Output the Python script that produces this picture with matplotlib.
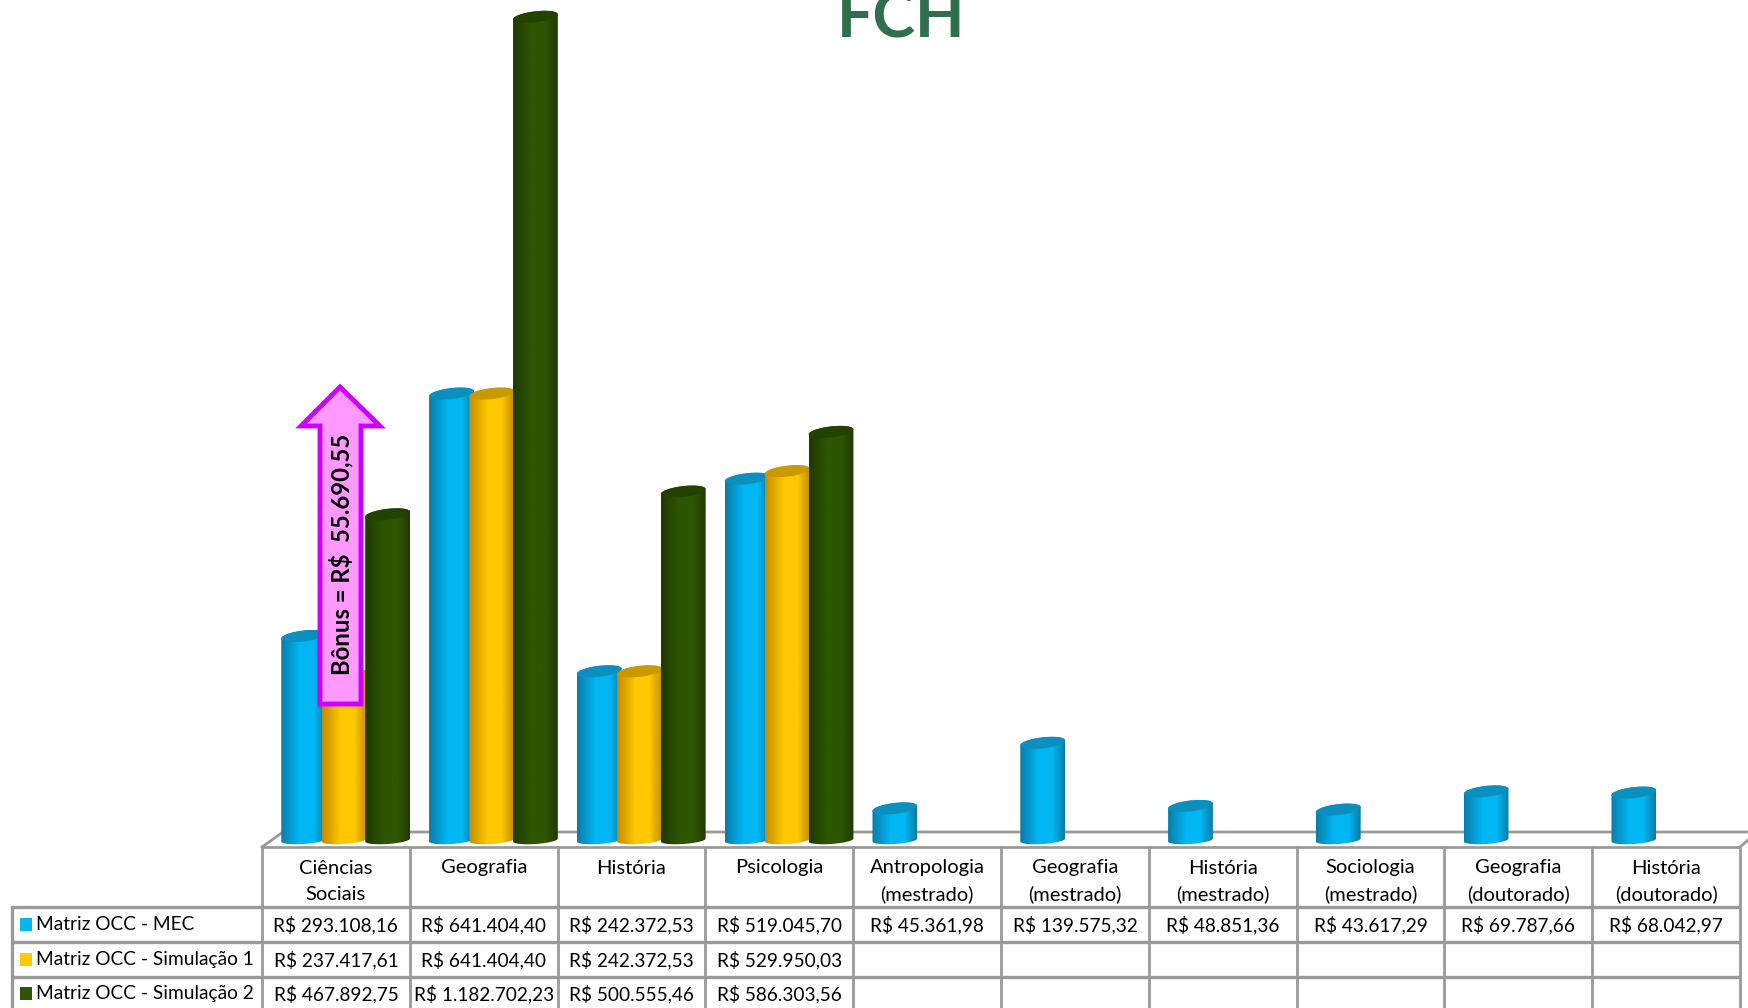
# grafico FCH - matriz OCC com cilindros e tabela de dados
import numpy as np
import matplotlib
matplotlib.use('Agg')
import matplotlib.pyplot as plt
from matplotlib.colors import LinearSegmentedColormap
from matplotlib.patches import Polygon, Rectangle, PathPatch
from matplotlib.path import Path

plt.rcParams['font.family'] = ['Lato', 'DejaVu Sans']

W, H = 1748, 1008

categorias = ['Ciências\nSociais', 'Geografia', 'História', 'Psicologia',
              'Antropologia\n(mestrado)', 'Geografia\n(mestrado)', 'História\n(mestrado)',
              'Sociologia\n(mestrado)', 'Geografia\n(doutorado)', 'História\n(doutorado)']
series = ['Matriz OCC - MEC', 'Matriz OCC - Simulação 1', 'Matriz OCC - Simulação 2']
mec = [293108.16, 641404.40, 242372.53, 519045.70, 45361.98, 139575.32, 48851.36, 43617.29, 69787.66, 68042.97]
sim1 = [237417.61, 641404.40, 242372.53, 529950.03]
sim2 = [467892.75, 1182702.23, 500555.46, 586303.56]
mec_txt = ['R$ 293.108,16', 'R$ 641.404,40', 'R$ 242.372,53', 'R$ 519.045,70', 'R$ 45.361,98',
           'R$ 139.575,32', 'R$ 48.851,36', 'R$ 43.617,29', 'R$ 69.787,66', 'R$ 68.042,97']
sim1_txt = ['R$ 237.417,61', 'R$ 641.404,40', 'R$ 242.372,53', 'R$ 529.950,03']
sim2_txt = ['R$ 467.892,75', 'R$ 1.182.702,23', 'R$ 500.555,46', 'R$ 586.303,56']
bonus = 'Bônus = R$  55.690,55'

cores = ['#00B7F4', '#FFC800', '#2E5600']
bordas = ['#0A7CA8', '#C48C00', '#1E3A00']
topos = ['#0A8FBE', '#C99A00', '#234200']
desloc = [-0.218, 0.055, 0.35]
larg = 0.303
CINZA = '#9A9A9A'

fig = plt.figure(figsize=(W / 100, H / 100), dpi=100)

# eixo das barras: 1 px = K reais, base em y=840 px
K = 1 / 0.000696
TAB_L, TAB_R = 262, 1740
ax = fig.add_axes([TAB_L / W, 1 - 852 / H, (TAB_R - TAB_L) / W, 852 / H])


def arco(xc, yc, a, b, tilt, t0, t1):
    t = np.linspace(t0, t1, 40)
    return np.column_stack([xc + a * np.cos(t), yc + b * np.sin(t) + tilt * np.cos(t)])


def cilindro(xc, v, s, z):
    a = larg / 2
    topo = arco(xc, v, a, 5.5 * K, 2.5 * K, 0, np.pi)
    fundo = arco(xc, 0, a, 4.0 * K, 1.5 * K, np.pi, 2 * np.pi)
    corpo = np.vstack([topo, fundo])
    cmap = LinearSegmentedColormap.from_list('c', [bordas[s], cores[s], cores[s], bordas[s]])
    grad = np.array([np.interp(np.linspace(0, 1, 128), [0, 0.42, 0.72, 1], [0, 0.34, 0.66, 1])])
    im = ax.imshow(grad, extent=[xc - a, xc + a, -12 * K, v + 8 * K], cmap=cmap, aspect='auto',
                   zorder=z, vmin=0, vmax=1)
    clip = PathPatch(Path(corpo), transform=ax.transData, facecolor='none', edgecolor='none')
    ax.add_patch(clip)
    im.set_clip_path(clip)
    elipse = np.vstack([topo, arco(xc, v, a, 5.5 * K, 2.5 * K, np.pi, 2 * np.pi)])
    ax.add_patch(Polygon(elipse, closed=True, facecolor=topos[s], edgecolor='none', zorder=z + 0.1))


# camada em pixels para piso, tabela e seta
px = fig.add_axes([0, 0, 1, 1], zorder=-1)
px.set_xlim(0, W)
px.set_ylim(H, 0)
px.axis('off')

px.plot([TAB_L, 283, W], [847, 832, 832], color=CINZA, lw=2)
px.plot([TAB_R, W], [847, 840], color=CINZA, lw=2)

for s, vals in enumerate([mec, sim1, sim2]):
    for i, v in enumerate(vals):
        cilindro(i + desloc[s], v, s, 3 + s + i * 0.01)
ax.set_xlim(-0.5, 9.5)
ax.set_ylim(-12 * K, 840 * K)
ax.axis('off')

top = fig.add_axes([0, 0, 1, 1], zorder=5)
top.set_xlim(0, W)
top.set_ylim(H, 0)
top.axis('off')

col = (TAB_R - TAB_L) / 10
y_linhas = [847, 907, 942, 977]
y_textos = [925, 960, 994]

# grade da tabela
top.plot([TAB_L, TAB_R], [847, 847], color=CINZA, lw=2, solid_capstyle='butt')
for y in y_linhas[1:]:
    top.plot([12, TAB_R], [y, y], color=CINZA, lw=2.4, solid_capstyle='butt')
top.plot([12, 12], [907, H], color=CINZA, lw=2.4)
for i in range(11):
    x = TAB_L + i * col
    top.plot([x, x], [847, H], color=CINZA, lw=2)

for i, c in enumerate(categorias):
    xc = TAB_L + (i + 0.5) * col
    for j, p in enumerate(c.split('\n')):
        top.text(xc, 868 + j * 26, p, ha='center', va='center', fontsize=14.5, color='black')

for r, (nome, txt) in enumerate(zip(series, [mec_txt, sim1_txt, sim2_txt])):
    y = y_textos[r]
    top.add_patch(Rectangle((20, y - 7), 11.5, 12.5, facecolor=cores[r], edgecolor='none'))
    top.text(36.5, y - 1, nome, ha='left', va='center', fontsize=13.8, color='black')
    for i, t in enumerate(txt):
        top.text(TAB_L + (i + 0.5) * col, y, t, ha='center', va='center', fontsize=13.7, color='black')

# seta do bonus
seta = [(340, 387), (380, 426), (361, 426), (361, 704), (320, 704), (320, 426), (301, 426)]
top.add_patch(Polygon(seta, closed=True, facecolor='#FF99FF', edgecolor='#CC00FF', lw=3.5, joinstyle='miter'))
top.text(341, 554, bonus, rotation=90, ha='center', va='center', fontsize=17.2, fontweight='bold', color='black')

# titulo cortado no topo
top.text(901, 38, 'FCH', ha='center', va='baseline', fontsize=46.4, fontweight='bold', color='#2F704B', clip_on=True)

fig.savefig('out.png', dpi=100, facecolor='white')
